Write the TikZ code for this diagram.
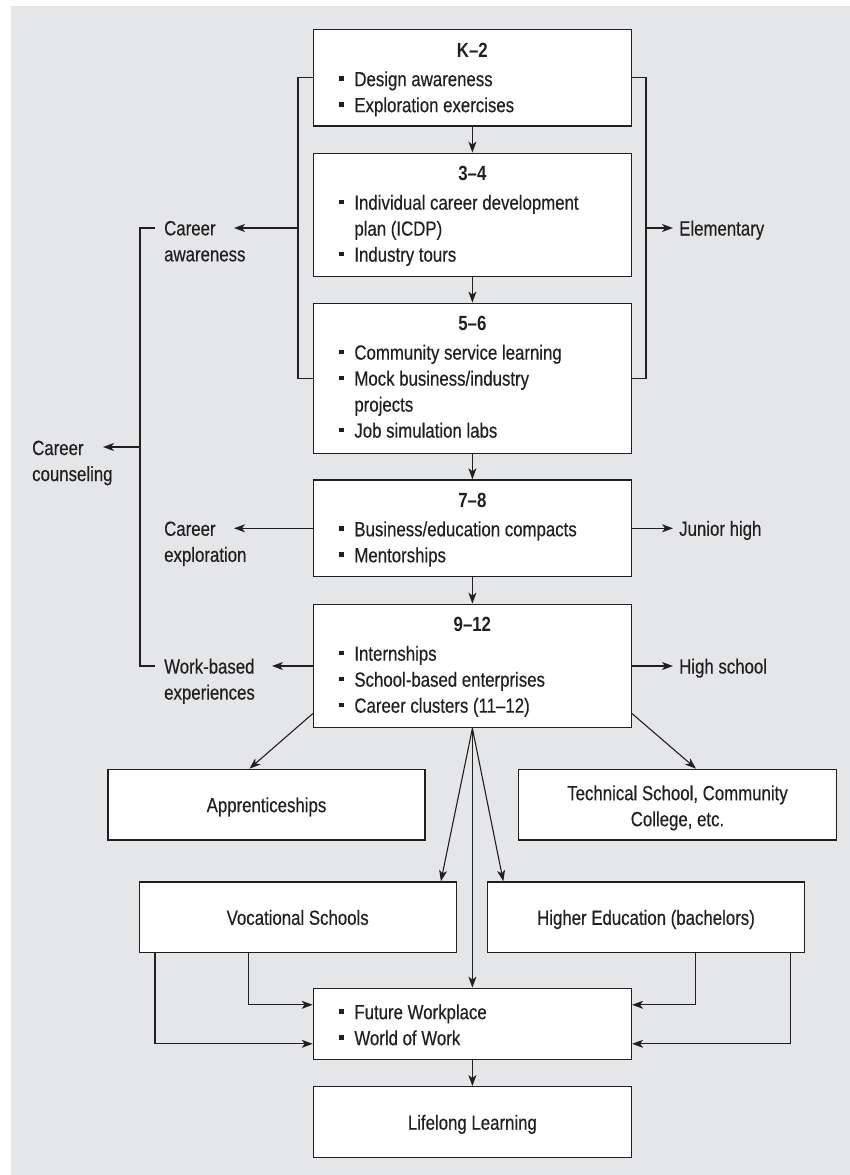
\documentclass[tikz,border=0pt]{standalone}
\usepackage{fontspec}
\setmainfont{Liberation Sans}[FakeStretch=0.82, UprightFeatures={FakeBold=0.35}]
\usetikzlibrary{arrows.meta,calc}
\definecolor{bg}{HTML}{E5E6E8}
\definecolor{ink}{HTML}{231F20}
\newcommand\bul{\makebox[15pt][l]{\raisebox{5.6pt}{\rule{4.3pt}{4.3pt}}}}
\newcommand\intext[3]{\parbox[c][#1][t]{318pt}{\vspace*{#2}#3}}
\newcommand\ttl[1]{\makebox[318pt]{\bfseries #1}\\[3pt]}
\newcommand\itm{\hspace*{26pt}\bul}
\newcommand\cnt{\hspace*{41pt}}
\tikzset{
  every node/.style={font=\fontsize{20.5}{26}\selectfont, text=ink},
  stage/.style={draw=ink, line width=1.4pt, fill=white, inner sep=0pt},
  plainbox/.style={draw=ink, line width=1.4pt, fill=white, inner sep=0pt,
    minimum width=317pt, minimum height=70.7pt, text height=15pt, text depth=0pt},
  sidel/.style={anchor=north west, inner sep=0pt, align=left},
  sider/.style={anchor=west, inner xsep=6pt, inner ysep=0pt, text height=15pt, text depth=0pt},
  conn/.style={draw=ink, line width=1.1pt},
  arr/.style={conn, -{Stealth[length=11pt,width=8pt,inset=3pt]}}
}
\begin{document}
\begin{tikzpicture}[x=1pt,y=-1pt]
\useasboundingbox (0,0) rectangle (850,1175);
\fill[white] (0,0) rectangle (850,1175);
\fill[bg] (11,6) rectangle (850,1175);

% stage boxes
\node[stage] (k2) at (472.4,77.7) {\intext{96.7pt}{13.5pt}{\ttl{K–2}\itm Design awareness\\\itm Exploration exercises}};
\node[stage] (b34) at (472.4,215) {\intext{123.3pt}{13pt}{\ttl{3–4}\itm Individual career development\\\cnt plan (ICDP)\\\itm Industry tours}};
\node[stage] (b56) at (472.4,378.3) {\intext{150pt}{13pt}{\ttl{5–6}\itm Community service learning\\\itm Mock business/industry\\\cnt projects\\\itm Job simulation labs}};
\node[stage] (b78) at (472.4,528.3) {\intext{96.7pt}{13pt}{\ttl{7–8}\itm Business/education compacts\\\itm Mentorships}};
\node[stage] (b912) at (472.4,666) {\intext{123.3pt}{13pt}{\ttl{9–12}\itm Internships\\\itm School-based enterprises\\\itm Career clusters (11–12)}};

\node[plainbox] (appr) at (266.5,804.7) {Apprenticeships};
\node[stage] (tech) at (677.5,804.7) {\intext{70.7pt}{16pt}{\centering Technical School, Community\\College, etc.}};
\node[plainbox] (voc) at (297.7,917.3) {Vocational Schools};
\node[plainbox] (high) at (646,917.3) {Higher Education (bachelors)};
\node[stage] (fut) at (472.4,1023.8) {\intext{71pt}{16pt}{\itm Future Workplace\\\itm World of Work}};
\node[plainbox, minimum width=318pt, minimum height=71pt] (life) at (472.4,1122.2) {Lifelong Learning};

% side labels
\node[sidel] (lca) at (164,220.8) {Career\\awareness};
\node[sidel] (lcc) at (32,440.5) {Career\\counseling};
\node[sidel] (lce) at (164,521.3) {Career\\exploration};
\node[sidel] (lwb) at (164,658.5) {Work-based\\experiences};
\node[sider] (elem) at (673,228) {Elementary};
\node[sider] (jh) at (673,528.3) {Junior high};
\node[sider] (hs) at (673,666) {High school};

% coordinates
\coordinate (lb) at (298,228);
\coordinate (rb) at (646,228);
\coordinate (caT) at (234,228);
\coordinate (ccT) at (103,447);
\coordinate (ceT) at (234,528.3);
\coordinate (wbT) at (272,666);
\coordinate (ct) at (155,228);
\coordinate (cb) at (155,666);
\coordinate (cm) at (140,447);

% brackets
\draw[conn] (k2.west) -- (k2.west -| lb) -- (b56.west -| lb) -- (b56.west);
\draw[conn] (k2.east) -- (k2.east -| rb) -- (b56.east -| rb) -- (b56.east);
\draw[arr] (lb) -- (caT);
\draw[arr] (rb) -- (elem.west);
\draw[conn] (ct) -- (ct -| cm) -- (cb -| cm) -- (cb);
\draw[arr] (cm) -- (ccT);
\draw[arr] (b78.west) -- (ceT);
\draw[arr] (b78.east) -- (jh.west);
\draw[arr] (b912.west) -- (wbT);
\draw[arr] (b912.east) -- (hs.west);

% vertical flow
\draw[arr] (k2.south) -- (b34.north);
\draw[arr] (b34.south) -- (b56.north);
\draw[arr] (b56.south) -- (b78.north);
\draw[arr] (b78.south) -- (b912.north);
\draw[arr] (fut.south) -- (life.north);

% fan
\draw[arr] ([yshift=14.7pt]b912.south west) -- ([xshift=-17pt]appr.north);
\draw[arr] ([yshift=14.7pt]b912.south east) -- ([xshift=18.5pt]tech.north);
\draw[arr] (b912.south) -- ([xshift=-16pt]voc.north east);
\draw[arr] (b912.south) -- ([xshift=16.5pt]high.north west);
\draw[arr] (b912.south) -- (fut.north);

% into future workplace
\draw[arr] ([xshift=110.3pt]voc.south west) |- ([yshift=19pt]fut.west);
\draw[arr] ([xshift=16.5pt]voc.south west) |- ([yshift=-20pt]fut.west);
\draw[arr] ([xshift=-109.7pt]high.south east) |- ([yshift=19pt]fut.east);
\draw[arr] ([xshift=-15pt]high.south east) |- ([yshift=-20pt]fut.east);
\end{tikzpicture}
\end{document}
